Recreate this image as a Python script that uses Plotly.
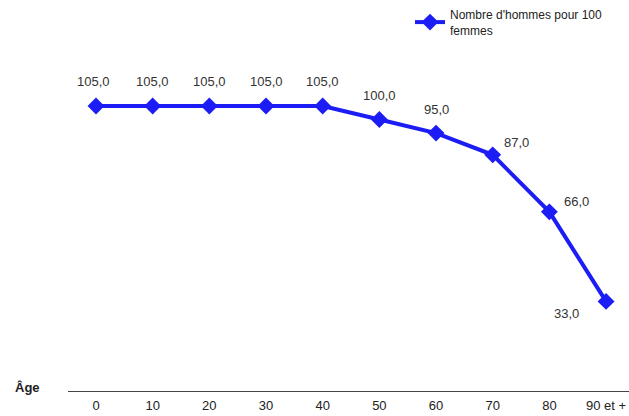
import plotly.graph_objects as go

categories = ["0", "10", "20", "30", "40", "50", "60", "70", "80", "90 et +"]
values = [105.0, 105.0, 105.0, 105.0, 105.0, 100.0, 95.0, 87.0, 66.0, 33.0]
labels = ["105,0", "105,0", "105,0", "105,0", "105,0", "100,0", "95,0", "87,0", "66,0", "33,0"]
series_name = "Nombre d'hommes pour 100<br>femmes"

# label offsets (pixels) per point
label_dx = [-3, 0, 0, 0, 0, 0, 0, 24, 27, -40]
label_dy = [24, 24, 24, 24, 24, 24, 24, 12, 10, -12]

W, H = 629, 416
L, R, T, B = 68, 0, 40, 25

xs = list(range(len(categories)))
fig = go.Figure()
fig.add_trace(go.Scatter(
    x=xs, y=values, mode="lines+markers", name=series_name,
    line=dict(color="#1c1cf5", width=4),
    marker=dict(symbol="diamond", size=13, color="#1c1cf5"),
))

for i, (v, t) in enumerate(zip(values, labels)):
    fig.add_annotation(x=xs[i], y=v, text=t, showarrow=False,
                       xshift=label_dx[i], yshift=label_dy[i],
                       font=dict(family="Liberation Sans, Arial", size=13, color="#333333"))

fig.add_annotation(xref="paper", yref="paper", text="<b>Âge</b>", showarrow=False,
                   x=(27.5 - L) / (W - L - R), y=(H - B - 387) / (H - T - B),
                   xanchor="center", yanchor="middle",
                   font=dict(family="Liberation Sans, Arial", size=13, color="#222222"))

fig.update_layout(
    width=W, height=H,
    margin=dict(l=L, r=R, t=T, b=B),
    paper_bgcolor="white", plot_bgcolor="white",
    font=dict(family="Liberation Sans, Arial", size=12, color="#222222"),
    showlegend=True,
    legend=dict(x=(418 - 8 - L) / (W - L - R), y=1.115, xanchor="left", yanchor="top",
                font=dict(size=12, color="#222222"), bgcolor="rgba(0,0,0,0)",
                itemwidth=30, tracegroupgap=0),
    xaxis=dict(range=[-0.494, 9.405], tickmode="array", tickvals=xs, ticktext=categories,
               showgrid=False, zeroline=False, showline=True, linecolor="#444444", linewidth=1,
               ticks="", ticklabelstandoff=2, tickfont=dict(size=13, color="#222222"),
               fixedrange=True),
    yaxis=dict(range=[0, 129.3], showgrid=False, zeroline=False, showline=False,
               showticklabels=False, ticks="", fixedrange=True),
)

fig.write_html("out.html", config={"displayModeBar": False},
               post_script="document.body.style.margin='0';")
